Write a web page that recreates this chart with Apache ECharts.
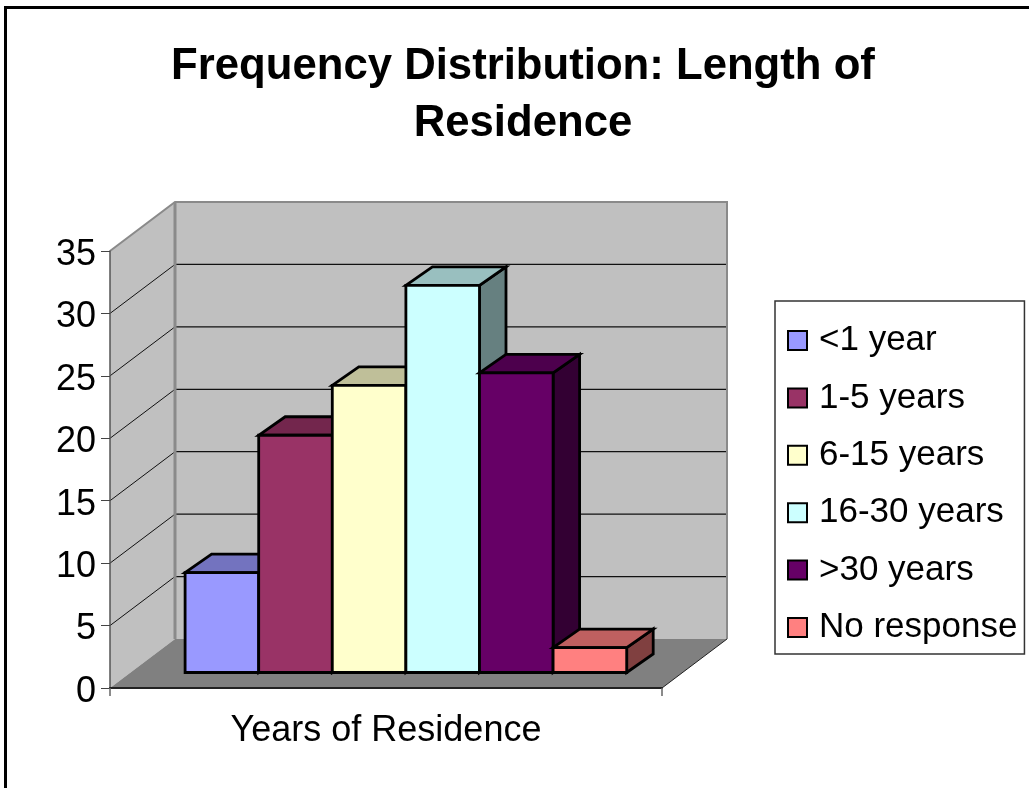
<!DOCTYPE html>
<html>
<head>
<meta charset="utf-8">
<title>Frequency Distribution</title>
<script src="https://cdn.jsdelivr.net/npm/echarts@6/dist/echarts.min.js"></script>
<style>
html,body{margin:0;padding:0;background:#fff;}
#chart{width:1029px;height:788px;}
</style>
</head>
<body>
<div id="chart"></div>
<script>
var categories = ['<1 year','1-5 years','6-15 years','16-30 years','>30 years','No response'];
var values = [8,19,23,31,24,2];
var yTicks = [5,10,15,20,25,30];

var frontColors = ['#9999FF','#993366','#FFFFCC','#CCFFFF','#660066','#FF8080'];
var topColors = ['#7373BF','#73264D','#BFBF99','#99BFBF','#4D004D','#BF6060'];
var sideColors = ['#5C5C99','#5C1F3D','#99997A','#668080','#330033','#804040'];

var FONT = '"Liberation Sans", Arial, sans-serif';
var X_MAX = 7.5, BAR_START = 0.735;
// perspective offsets, px
var WALL_DX = 65, WALL_DY = -49;
var BAR_DX = 21, BAR_DY = -15.5;
var DEPTH_DX = 26.5, DEPTH_DY = -18.5;

function poly(points, fill, stroke, width){
    return {
        type:'polygon',
        shape:{points:points},
        style:{fill:fill, stroke:stroke || null, lineWidth:width || 0, lineJoin:'miter'}
    };
}
function line(a, b, stroke, width){
    return {
        type:'line',
        shape:{x1:a[0], y1:a[1], x2:b[0], y2:b[1]},
        style:{stroke:stroke, lineWidth:width}
    };
}
function back(p){
    return [p[0]+WALL_DX, p[1]+WALL_DY];
}

function renderWalls(params, api){
    var fl = api.coord([0,0]), fr = api.coord([X_MAX,0]);
    var tl = api.coord([0,35]), tr = api.coord([X_MAX,35]);
    var children = [
        poly([fl,back(fl),back(tl),tl], '#C0C0C0'),
        poly([back(fl),back(fr),back(tr),back(tl)], '#C0C0C0'),
        poly([fl,fr,back(fr),back(fl)], '#808080')
    ];
    yTicks.forEach(function(t){
        var a = api.coord([0,t]), b = api.coord([X_MAX,t]);
        children.push(line(a, back(a), '#111', 1));
        children.push(line(back(a), back(b), '#111', 1.2));
    });
    children.push({
        type:'polyline',
        shape:{points:[tl,back(tl),back(tr),back(fr)]},
        style:{stroke:'#8A8A8A', lineWidth:2, fill:null}
    });
    children.push(line(back(tl), back(fl), '#8A8A8A', 3));
    children.push(line(fr, back(fr), '#222', 1));
    return {type:'group', children:children};
}

function renderBar(params, api){
    var x = api.value(0) + BAR_START, v = api.value(1);
    var a = api.coord([x,0]), b = api.coord([x+1,v]);
    var i = params.seriesIndex - 1;
    var l = a[0]+BAR_DX, r = b[0]+BAR_DX, bot = a[1]+BAR_DY, top = b[1]+BAR_DY;
    var style = ['#000', 2.8];
    return {type:'group', children:[
        poly([[r,bot],[r+DEPTH_DX,bot+DEPTH_DY],[r+DEPTH_DX,top+DEPTH_DY],[r,top]], sideColors[i], style[0], style[1]),
        poly([[l,top],[r,top],[r+DEPTH_DX,top+DEPTH_DY],[l+DEPTH_DX,top+DEPTH_DY]], topColors[i], style[0], style[1]),
        poly([[l,bot],[r,bot],[r,top],[l,top]], frontColors[i], style[0], style[1])
    ]};
}

var series = [{
    name:'walls',
    type:'custom',
    renderItem:renderWalls,
    data:[[0,0]],
    clip:false,
    silent:true,
    z:1
}];
categories.forEach(function(name, i){
    series.push({
        name:name,
        type:'custom',
        renderItem:renderBar,
        data:[[i, values[i]]],
        itemStyle:{color:frontColors[i]},
        clip:false,
        silent:true,
        z:3
    });
});

var myChart = echarts.init(document.getElementById('chart'));
myChart.setOption({
    backgroundColor:'#fff',
    animation:false,
    title:{
        text:'Frequency Distribution: Length of\nResidence',
        left:518,
        top:33,
        textAlign:'center',
        textStyle:{fontFamily:FONT, fontSize:43.7, fontWeight:'bold', color:'#000', lineHeight:57}
    },
    grid:{left:110, top:251, width:552, height:437},
    xAxis:{
        type:'value',
        min:0,
        max:X_MAX,
        interval:X_MAX,
        splitLine:{show:false},
        axisLabel:{show:false},
        axisLine:{lineStyle:{color:'#222', width:2}},
        axisTick:{length:8, lineStyle:{color:'#666', width:1.5}},
        name:'Years of Residence',
        nameLocation:'middle',
        nameGap:25,
        nameTextStyle:{fontFamily:FONT, fontSize:36, color:'#000'},
        z:5
    },
    yAxis:{
        type:'value',
        min:0,
        max:35,
        interval:5,
        splitLine:{show:false},
        axisLine:{show:true, lineStyle:{color:'#555', width:1.5}},
        axisTick:{show:true, length:9, lineStyle:{color:'#444', width:1}},
        axisLabel:{fontFamily:FONT, fontSize:36, color:'#000', margin:14, verticalAlign:'top', lineHeight:8},
        z:5
    },
    legend:{
        data:categories,
        orient:'vertical',
        left:775,
        top:301,
        icon:'rect',
        itemWidth:19,
        itemHeight:19,
        itemGap:19.4,
        padding:[20.5,7,7.5,12],
        selectedMode:false,
        backgroundColor:'#fff',
        borderColor:'#333',
        borderWidth:1.5,
        itemStyle:{borderColor:'#000', borderWidth:2},
        textStyle:{fontFamily:FONT, fontSize:35, color:'#000', lineHeight:35, padding:[3,0,0,7]}
    },
    graphic:[{
        type:'polyline',
        silent:true,
        shape:{points:[[5.5,788],[5.5,7.5],[1029,7.5]]},
        style:{stroke:'#000', lineWidth:3, fill:null}
    }],
    series:series
});
</script>
</body>
</html>
